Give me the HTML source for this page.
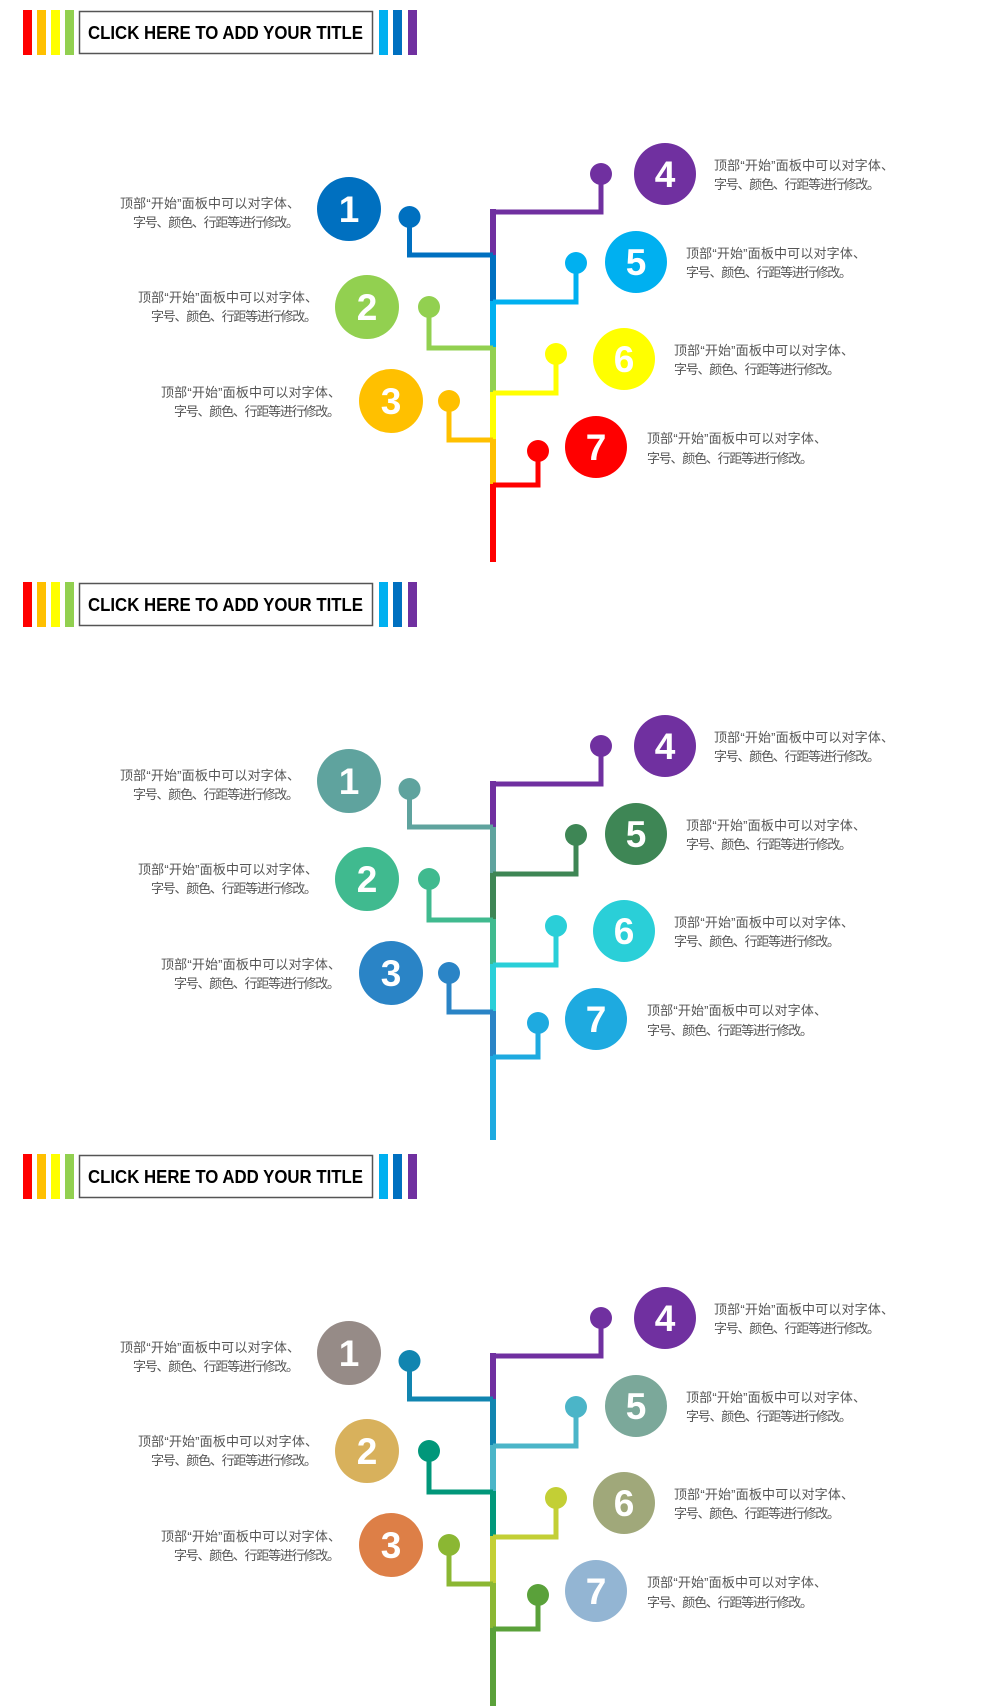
<!DOCTYPE html>
<html><head><meta charset="utf-8"><style>
html,body{margin:0;padding:0;background:#fff;}
svg{display:block}
.t{font-family:"Liberation Sans","Noto Sans CJK SC",sans-serif;font-size:13px;fill:#555;}
.n{font-family:"Liberation Sans",sans-serif;font-size:37px;font-weight:bold;fill:#fff;text-anchor:middle;}
.h{font-family:"Liberation Sans",sans-serif;font-size:18px;font-weight:bold;fill:#000;}
</style></head><body>
<svg width="1000" height="1706" viewBox="0 0 1000 1706" xmlns="http://www.w3.org/2000/svg">
<defs>
<g id="hdr">
<rect x="23" y="10" width="9" height="45" fill="#FF0000"/>
<rect x="37" y="10" width="9" height="45" fill="#FFC000"/>
<rect x="51" y="10" width="9" height="45" fill="#FFFF00"/>
<rect x="65" y="10" width="9" height="45" fill="#92D050"/>
<rect x="79.5" y="11.5" width="293" height="42" fill="#fff" stroke="#555" stroke-width="1.5"/>
<text class="h" x="88" y="39" textLength="275" lengthAdjust="spacingAndGlyphs">CLICK HERE TO ADD YOUR TITLE</text>
<rect x="379" y="10" width="9" height="45" fill="#00B0F0"/>
<rect x="393" y="10" width="9" height="45" fill="#0070C0"/>
<rect x="408" y="10" width="9" height="45" fill="#7030A0"/>
</g>
<g id="txt" class="t">
<text x="120" y="208" textLength="180" lengthAdjust="spacing">顶部“开始”面板中可以对字体、</text>
<text x="133" y="227" textLength="166" lengthAdjust="spacing">字号、颜色、行距等进行修改。</text>
<text x="138" y="302" textLength="180" lengthAdjust="spacing">顶部“开始”面板中可以对字体、</text>
<text x="151" y="321" textLength="166" lengthAdjust="spacing">字号、颜色、行距等进行修改。</text>
<text x="161" y="397" textLength="180" lengthAdjust="spacing">顶部“开始”面板中可以对字体、</text>
<text x="174" y="416" textLength="166" lengthAdjust="spacing">字号、颜色、行距等进行修改。</text>
<text x="714" y="170" textLength="180" lengthAdjust="spacing">顶部“开始”面板中可以对字体、</text>
<text x="714" y="189" textLength="166" lengthAdjust="spacing">字号、颜色、行距等进行修改。</text>
<text x="686" y="258" textLength="180" lengthAdjust="spacing">顶部“开始”面板中可以对字体、</text>
<text x="686" y="277" textLength="166" lengthAdjust="spacing">字号、颜色、行距等进行修改。</text>
<text x="674" y="355" textLength="180" lengthAdjust="spacing">顶部“开始”面板中可以对字体、</text>
<text x="674" y="374" textLength="166" lengthAdjust="spacing">字号、颜色、行距等进行修改。</text>
<text x="647" y="443" textLength="180" lengthAdjust="spacing">顶部“开始”面板中可以对字体、</text>
<text x="647" y="463" textLength="166" lengthAdjust="spacing">字号、颜色、行距等进行修改。</text>
</g>
</defs>

<g>
<use href="#hdr"/><use href="#txt"/>
<g fill="none" stroke-width="6">
<path d="M493 209V256" stroke="#7030A0"/><path d="M493 255V302" stroke="#0070C0"/>
<path d="M493 301V348" stroke="#00B0F0"/><path d="M493 347V393" stroke="#92D050"/>
<path d="M493 392V440" stroke="#FFFF00"/><path d="M493 439V485" stroke="#FFC000"/>
<path d="M493 484V562" stroke="#FF0000"/>
</g>
<g fill="none" stroke-width="5">
<path d="M409.5 217V255H493" stroke="#0070C0"/>
<path d="M429 307V348H493" stroke="#92D050"/>
<path d="M449 401V440H493" stroke="#FFC000"/>
<path d="M493 212H601V174" stroke="#7030A0"/>
<path d="M493 302H576V263" stroke="#00B0F0"/>
<path d="M493 393H556V354" stroke="#FFFF00"/>
<path d="M493 485H538V451" stroke="#FF0000"/>
</g>
<circle cx="409.5" cy="217" r="11" fill="#0070C0"/><circle cx="429" cy="307" r="11" fill="#92D050"/>
<circle cx="449" cy="401" r="11" fill="#FFC000"/><circle cx="601" cy="174" r="11" fill="#7030A0"/>
<circle cx="576" cy="263" r="11" fill="#00B0F0"/><circle cx="556" cy="354" r="11" fill="#FFFF00"/>
<circle cx="538" cy="451" r="11" fill="#FF0000"/>
<circle cx="349" cy="209" r="32" fill="#0070C0"/><circle cx="367" cy="307" r="32" fill="#92D050"/>
<circle cx="391" cy="401" r="32" fill="#FFC000"/><circle cx="665" cy="174" r="31" fill="#7030A0"/>
<circle cx="636" cy="262" r="31" fill="#00B0F0"/><circle cx="624" cy="359" r="31" fill="#FFFF00"/>
<circle cx="596" cy="447" r="31" fill="#FF0000"/>
<text class="n" x="349" y="222">1</text><text class="n" x="367" y="320">2</text><text class="n" x="391" y="414">3</text>
<text class="n" x="665" y="187">4</text><text class="n" x="636" y="275">5</text><text class="n" x="624" y="372">6</text><text class="n" x="596" y="460">7</text>
</g>

<g transform="translate(0,572)">
<use href="#hdr"/><use href="#txt"/>
<g fill="none" stroke-width="6">
<path d="M493 209V256" stroke="#7030A0"/><path d="M493 255V302" stroke="#5FA39E"/>
<path d="M493 301V348" stroke="#3E8655"/><path d="M493 347V393" stroke="#40BA8F"/>
<path d="M493 392V440" stroke="#2ACFD8"/><path d="M493 439V485" stroke="#2A84C6"/>
<path d="M493 484V568" stroke="#1EAAE0"/>
</g>
<g fill="none" stroke-width="5">
<path d="M409.5 217V255H493" stroke="#5FA39E"/>
<path d="M429 307V348H493" stroke="#40BA8F"/>
<path d="M449 401V440H493" stroke="#2A84C6"/>
<path d="M493 212H601V174" stroke="#7030A0"/>
<path d="M493 302H576V263" stroke="#3E8655"/>
<path d="M493 393H556V354" stroke="#2ACFD8"/>
<path d="M493 485H538V451" stroke="#1EAAE0"/>
</g>
<circle cx="409.5" cy="217" r="11" fill="#5FA39E"/><circle cx="429" cy="307" r="11" fill="#40BA8F"/>
<circle cx="449" cy="401" r="11" fill="#2A84C6"/><circle cx="601" cy="174" r="11" fill="#7030A0"/>
<circle cx="576" cy="263" r="11" fill="#3E8655"/><circle cx="556" cy="354" r="11" fill="#2ACFD8"/>
<circle cx="538" cy="451" r="11" fill="#1EAAE0"/>
<circle cx="349" cy="209" r="32" fill="#5FA39E"/><circle cx="367" cy="307" r="32" fill="#40BA8F"/>
<circle cx="391" cy="401" r="32" fill="#2A84C6"/><circle cx="665" cy="174" r="31" fill="#7030A0"/>
<circle cx="636" cy="262" r="31" fill="#3E8655"/><circle cx="624" cy="359" r="31" fill="#2ACFD8"/>
<circle cx="596" cy="447" r="31" fill="#1EAAE0"/>
<text class="n" x="349" y="222">1</text><text class="n" x="367" y="320">2</text><text class="n" x="391" y="414">3</text>
<text class="n" x="665" y="187">4</text><text class="n" x="636" y="275">5</text><text class="n" x="624" y="372">6</text><text class="n" x="596" y="460">7</text>
</g>

<g transform="translate(0,1144)">
<use href="#hdr"/><use href="#txt"/>
<g fill="none" stroke-width="6">
<path d="M493 209V256" stroke="#7030A0"/><path d="M493 255V302" stroke="#1185B0"/>
<path d="M493 301V348" stroke="#4BB5C8"/><path d="M493 347V393" stroke="#01977A"/>
<path d="M493 392V440" stroke="#C3CF35"/><path d="M493 439V485" stroke="#8BB733"/>
<path d="M493 484V570" stroke="#5AA13A"/>
</g>
<g fill="none" stroke-width="5">
<path d="M409.5 217V255H493" stroke="#1185B0"/>
<path d="M429 307V348H493" stroke="#01977A"/>
<path d="M449 401V440H493" stroke="#8BB733"/>
<path d="M493 212H601V174" stroke="#7030A0"/>
<path d="M493 302H576V263" stroke="#4BB5C8"/>
<path d="M493 393H556V354" stroke="#C3CF35"/>
<path d="M493 485H538V451" stroke="#5AA13A"/>
</g>
<circle cx="409.5" cy="217" r="11" fill="#1185B0"/><circle cx="429" cy="307" r="11" fill="#01977A"/>
<circle cx="449" cy="401" r="11" fill="#8BB733"/><circle cx="601" cy="174" r="11" fill="#7030A0"/>
<circle cx="576" cy="263" r="11" fill="#4BB5C8"/><circle cx="556" cy="354" r="11" fill="#C3CF35"/>
<circle cx="538" cy="451" r="11" fill="#5AA13A"/>
<circle cx="349" cy="209" r="32" fill="#968B87"/><circle cx="367" cy="307" r="32" fill="#D8B15C"/>
<circle cx="391" cy="401" r="32" fill="#DD7F47"/><circle cx="665" cy="174" r="31" fill="#7030A0"/>
<circle cx="636" cy="262" r="31" fill="#7BA89A"/><circle cx="624" cy="359" r="31" fill="#A0A87A"/>
<circle cx="596" cy="447" r="31" fill="#93B5D3"/>
<text class="n" x="349" y="222">1</text><text class="n" x="367" y="320">2</text><text class="n" x="391" y="414">3</text>
<text class="n" x="665" y="187">4</text><text class="n" x="636" y="275">5</text><text class="n" x="624" y="372">6</text><text class="n" x="596" y="460">7</text>
</g>
</svg>
</body></html>
